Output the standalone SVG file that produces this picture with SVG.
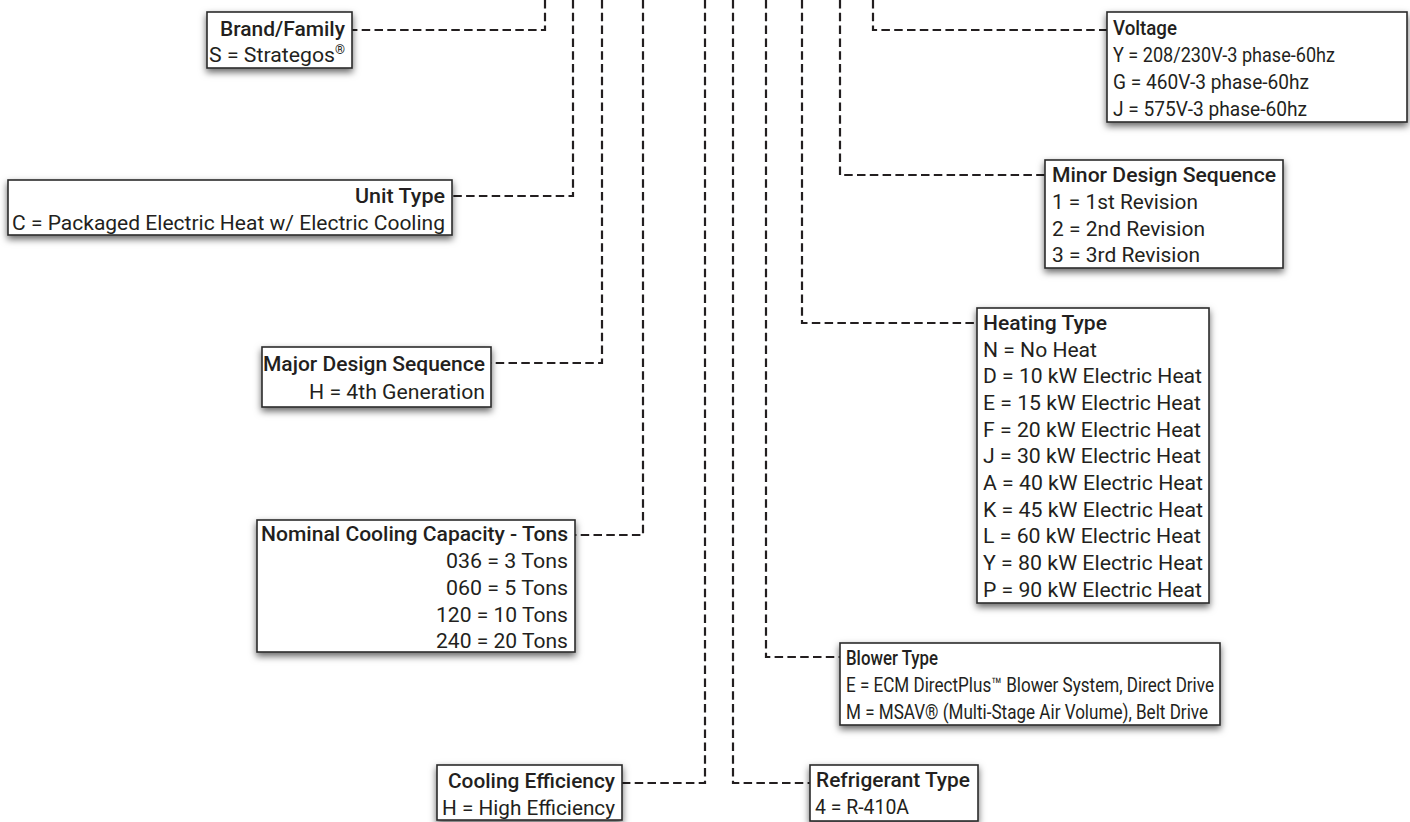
<svg xmlns="http://www.w3.org/2000/svg" width="1410" height="822" viewBox="0 0 1410 822">
<style>
text{font-family:Roboto,"Liberation Sans",sans-serif;font-size:20px;fill:#231f20}
.t{font-weight:500}
.r{text-anchor:end}
.box{fill:#fff;stroke:#2b2b2b;stroke-width:1.6;filter:url(#sh)}
.c{fill:none;stroke:#231f20;stroke-width:2.2;stroke-dasharray:8.5 4.3}
</style>
<defs>
<filter id="sh" x="-20%" y="-20%" width="140%" height="150%">
<feDropShadow dx="0" dy="3.5" stdDeviation="3.5" flood-color="#000" flood-opacity="0.6"/>
</filter>
</defs>
<g id="connectors">
<path class="c" d="M545 0V30H352"/>
<path class="c" d="M573 0V196H452"/>
<path class="c" d="M602 0V363H491"/>
<path class="c" d="M643 0V535H575"/>
<path class="c" d="M705 0V783H622"/>
<path class="c" d="M733 0V783H810"/>
<path class="c" d="M766 0V657H840"/>
<path class="c" d="M802 0V323H977"/>
<path class="c" d="M840 0V175H1045"/>
<path class="c" d="M873 0V30H1107"/>
</g>
<g id="brand">
<rect class="box" x="207" y="12" width="145" height="56"/>
<text class="t r" x="345" y="36" textLength="125" lengthAdjust="spacingAndGlyphs">Brand/Family</text>
<text class="r" x="345" y="62" textLength="136" lengthAdjust="spacingAndGlyphs">S = Strategos<tspan font-size="12" dy="-8">®</tspan></text>
</g>
<g id="unit-type">
<rect class="box" x="8" y="180" width="444" height="55"/>
<text class="t r" x="445" y="203" textLength="90" lengthAdjust="spacingAndGlyphs">Unit Type</text>
<text class="r" x="445" y="230" textLength="433" lengthAdjust="spacingAndGlyphs">C = Packaged Electric Heat w/ Electric Cooling</text>
</g>
<g id="major-design">
<rect class="box" x="262" y="347" width="229" height="60"/>
<text class="t r" x="485" y="371" textLength="222" lengthAdjust="spacingAndGlyphs">Major Design Sequence</text>
<text class="r" x="485" y="399" textLength="176" lengthAdjust="spacingAndGlyphs">H = 4th Generation</text>
</g>
<g id="nominal-capacity">
<rect class="box" x="257" y="520" width="318" height="132"/>
<text class="t r" x="568" y="541" textLength="307" lengthAdjust="spacingAndGlyphs">Nominal Cooling Capacity - Tons</text>
<text class="r" x="568" y="568" textLength="122" lengthAdjust="spacingAndGlyphs">036 = 3 Tons</text>
<text class="r" x="568" y="595" textLength="122" lengthAdjust="spacingAndGlyphs">060 = 5 Tons</text>
<text class="r" x="568" y="622" textLength="132" lengthAdjust="spacingAndGlyphs">120 = 10 Tons</text>
<text class="r" x="568" y="648" textLength="132" lengthAdjust="spacingAndGlyphs">240 = 20 Tons</text>
</g>
<g id="cooling-efficiency">
<rect class="box" x="437" y="765" width="185" height="55"/>
<text class="t r" x="615" y="788" textLength="167" lengthAdjust="spacingAndGlyphs">Cooling Efficiency</text>
<text class="r" x="615" y="815" textLength="173" lengthAdjust="spacingAndGlyphs">H = High Efficiency</text>
</g>
<g id="refrigerant">
<rect class="box" x="810" y="765" width="168" height="56"/>
<text class="t" x="816" y="787" textLength="154" lengthAdjust="spacingAndGlyphs">Refrigerant Type</text>
<text x="815" y="814" textLength="94" lengthAdjust="spacingAndGlyphs">4 = R-410A</text>
</g>
<g id="blower">
<rect class="box" x="840" y="643" width="380" height="82"/>
<text class="t" x="846" y="665" textLength="92" lengthAdjust="spacingAndGlyphs">Blower Type</text>
<text x="846" y="692" textLength="368" lengthAdjust="spacingAndGlyphs">E = ECM DirectPlus™ Blower System, Direct Drive</text>
<text x="846" y="719" textLength="362" lengthAdjust="spacingAndGlyphs">M = MSAV® (Multi-Stage Air Volume), Belt Drive</text>
</g>
<g id="heating">
<rect class="box" x="977" y="308" width="232" height="295"/>
<text class="t" x="983" y="330" textLength="124" lengthAdjust="spacingAndGlyphs">Heating Type</text>
<text x="983" y="357" textLength="114" lengthAdjust="spacingAndGlyphs">N = No Heat</text>
<text x="983" y="383" textLength="219" lengthAdjust="spacingAndGlyphs">D = 10 kW Electric Heat</text>
<text x="983" y="410" textLength="218" lengthAdjust="spacingAndGlyphs">E = 15 kW Electric Heat</text>
<text x="983" y="437" textLength="218" lengthAdjust="spacingAndGlyphs">F = 20 kW Electric Heat</text>
<text x="983" y="463" textLength="218" lengthAdjust="spacingAndGlyphs">J = 30 kW Electric Heat</text>
<text x="983" y="490" textLength="220" lengthAdjust="spacingAndGlyphs">A = 40 kW Electric Heat</text>
<text x="983" y="517" textLength="220" lengthAdjust="spacingAndGlyphs">K = 45 kW Electric Heat</text>
<text x="983" y="543" textLength="218" lengthAdjust="spacingAndGlyphs">L = 60 kW Electric Heat</text>
<text x="983" y="570" textLength="220" lengthAdjust="spacingAndGlyphs">Y = 80 kW Electric Heat</text>
<text x="983" y="597" textLength="219" lengthAdjust="spacingAndGlyphs">P = 90 kW Electric Heat</text>
</g>
<g id="minor-design">
<rect class="box" x="1045" y="160" width="238" height="108"/>
<text class="t" x="1052" y="182" textLength="224" lengthAdjust="spacingAndGlyphs">Minor Design Sequence</text>
<text x="1052" y="209" textLength="146" lengthAdjust="spacingAndGlyphs">1 = 1st Revision</text>
<text x="1052" y="236" textLength="153" lengthAdjust="spacingAndGlyphs">2 = 2nd Revision</text>
<text x="1052" y="262" textLength="148" lengthAdjust="spacingAndGlyphs">3 = 3rd Revision</text>
</g>
<g id="voltage">
<rect class="box" x="1107" y="12" width="300" height="110"/>
<text class="t" x="1113" y="35" textLength="64" lengthAdjust="spacingAndGlyphs">Voltage</text>
<text x="1113" y="62" textLength="222" lengthAdjust="spacingAndGlyphs">Y = 208/230V-3 phase-60hz</text>
<text x="1113" y="89" textLength="196" lengthAdjust="spacingAndGlyphs">G = 460V-3 phase-60hz</text>
<text x="1113" y="116" textLength="194" lengthAdjust="spacingAndGlyphs">J = 575V-3 phase-60hz</text>
</g>
</svg>
